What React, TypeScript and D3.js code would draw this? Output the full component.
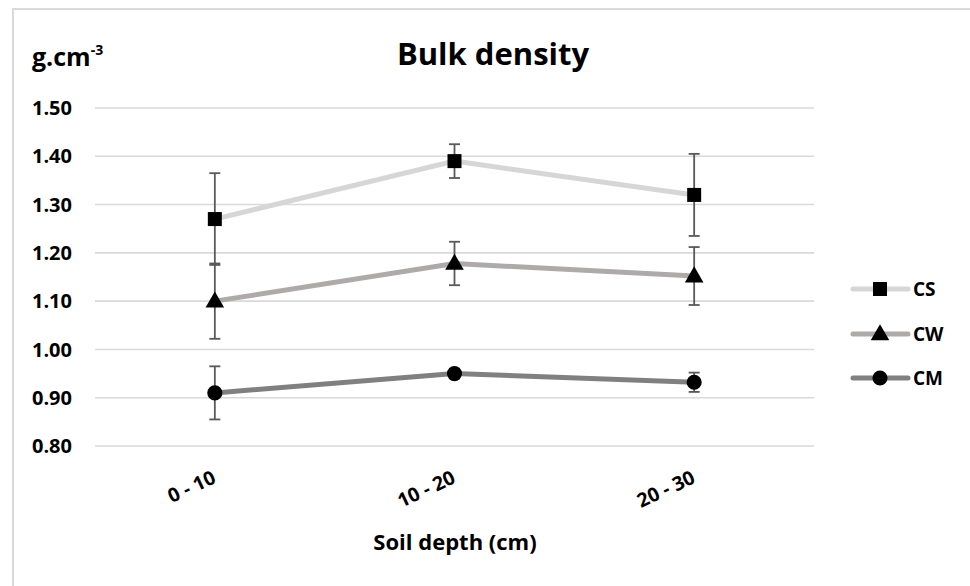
import React from "react";
import * as d3 from "d3";

const categories = ["0 - 10", "10 - 20", "20 - 30"];
const seriesNames = ["CS", "CW", "CM"];
const csValues = [1.27, 1.39, 1.32];
const csErrors = [0.095, 0.035, 0.085];
const cwValues = [1.1, 1.178, 1.152];
const cwErrors = [0.078, 0.045, 0.06];
const cmValues = [0.91, 0.95, 0.932];
const cmErrors = [0.055, 0.01, 0.02];
const yTicks = [0.8, 0.9, 1.0, 1.1, 1.2, 1.3, 1.4, 1.5];

const W = 970;
const H = 586;
const FONT = "'Open Sans', 'Noto Sans', sans-serif";

const series = [
  { name: seriesNames[0], values: csValues, errors: csErrors, color: "#d6d6d6", marker: "square" },
  { name: seriesNames[1], values: cwValues, errors: cwErrors, color: "#aeaaaa", marker: "triangle" },
  { name: seriesNames[2], values: cmValues, errors: cmErrors, color: "#808080", marker: "circle" },
];

const x = d3.scaleBand<string>().domain(categories).range([95, 814]);
const y = d3.scaleLinear().domain([0.8, 1.5]).range([446, 108]);
const cx = (c: string) => (x(c) as number) + x.bandwidth() / 2;

function Marker({ type, px, py }: { type: string; px: number; py: number }) {
  if (type === "square") {
    const sym = d3.symbol().type(d3.symbolSquare).size(196)();
    return <path d={sym as string} transform={`translate(${px},${py})`} fill="#000" />;
  }
  if (type === "triangle") {
    const sym = d3.symbol().type(d3.symbolTriangle).size(150)();
    return <path d={sym as string} transform={`translate(${px},${py + 1})`} fill="#000" />;
  }
  const sym = d3.symbol().type(d3.symbolCircle).size(180)();
  return <path d={sym as string} transform={`translate(${px},${py})`} fill="#000" />;
}

export default function App() {
  const line = d3
    .line<number>()
    .x((_, i) => cx(categories[i]))
    .y((d) => y(d));

  return (
    <svg
      width={W}
      height={H}
      style={{ position: "absolute", left: 0, top: 0, background: "#fff" }}
      fontFamily={FONT}
    >
      <rect x={13} y={9} width={W} height={H} fill="#fff" stroke="#d9d9d9" strokeWidth={2} />

      {/* gridlines */}
      {yTicks.map((t) => (
        <line key={t} x1={95} x2={814} y1={y(t)} y2={y(t)} stroke="#d9d9d9" strokeWidth={1.6} />
      ))}
      {yTicks.map((t) => (
        <text key={"l" + t} x={72} y={y(t)} dy="0.36em" textAnchor="end" fontSize={20} fontWeight="bold" fill="#000">
          {d3.format(".2f")(t)}
        </text>
      ))}

      {/* title */}
      <text x={493} y={65} textAnchor="middle" fontSize={31} fontWeight="bold" fill="#000">
        Bulk density
      </text>
      <text x={32} y={66} fontSize={25} fontWeight="bold" fill="#000">
        g.cm
        <tspan fontSize={14} dy={-11}>-3</tspan>
      </text>

      {/* category labels */}
      {categories.map((c) => (
        <text
          key={c}
          transform={`translate(${cx(c) - 4},${469}) rotate(-25)`}
          textAnchor="end"
          dy="0.75em"
          fontSize={19.5}
          fontWeight="bold"
          fill="#000"
        >
          {c}
        </text>
      ))}
      <text x={455} y={550} textAnchor="middle" fontSize={22} fontWeight="bold" fill="#000">
        Soil depth (cm)
      </text>

      {/* lines */}
      {series.map((s) => (
        <path key={"p" + s.name} d={line(s.values) as string} fill="none" stroke={s.color} strokeWidth={5} />
      ))}
      {/* error bars */}
      {series.map((s) =>
        s.values.map((v, i) => {
          const px = cx(categories[i]);
          const top = y(v + s.errors[i]);
          const bot = y(v - s.errors[i]);
          return (
            <g key={"e" + s.name + i} stroke="#595959" strokeWidth={1.8}>
              <line x1={px} x2={px} y1={top} y2={bot} />
              <line x1={px - 5.5} x2={px + 5.5} y1={top} y2={top} />
              <line x1={px - 5.5} x2={px + 5.5} y1={bot} y2={bot} />
            </g>
          );
        })
      )}
      {/* markers */}
      {series.map((s) =>
        s.values.map((v, i) => <Marker key={"m" + s.name + i} type={s.marker} px={cx(categories[i])} py={y(v)} />)
      )}

      {/* legend */}
      {series.map((s, i) => {
        const ly = [289, 334, 378][i];
        return (
          <g key={"lg" + s.name}>
            <line x1={853} x2={908} y1={ly} y2={ly} stroke={s.color} strokeWidth={5} strokeLinecap="round" />
            <Marker type={s.marker} px={880} py={ly} />
            <text x={913} y={ly} dy="0.36em" fontSize={19} fontWeight="bold" fill="#000">
              {s.name}
            </text>
          </g>
        );
      })}
    </svg>
  );
}
